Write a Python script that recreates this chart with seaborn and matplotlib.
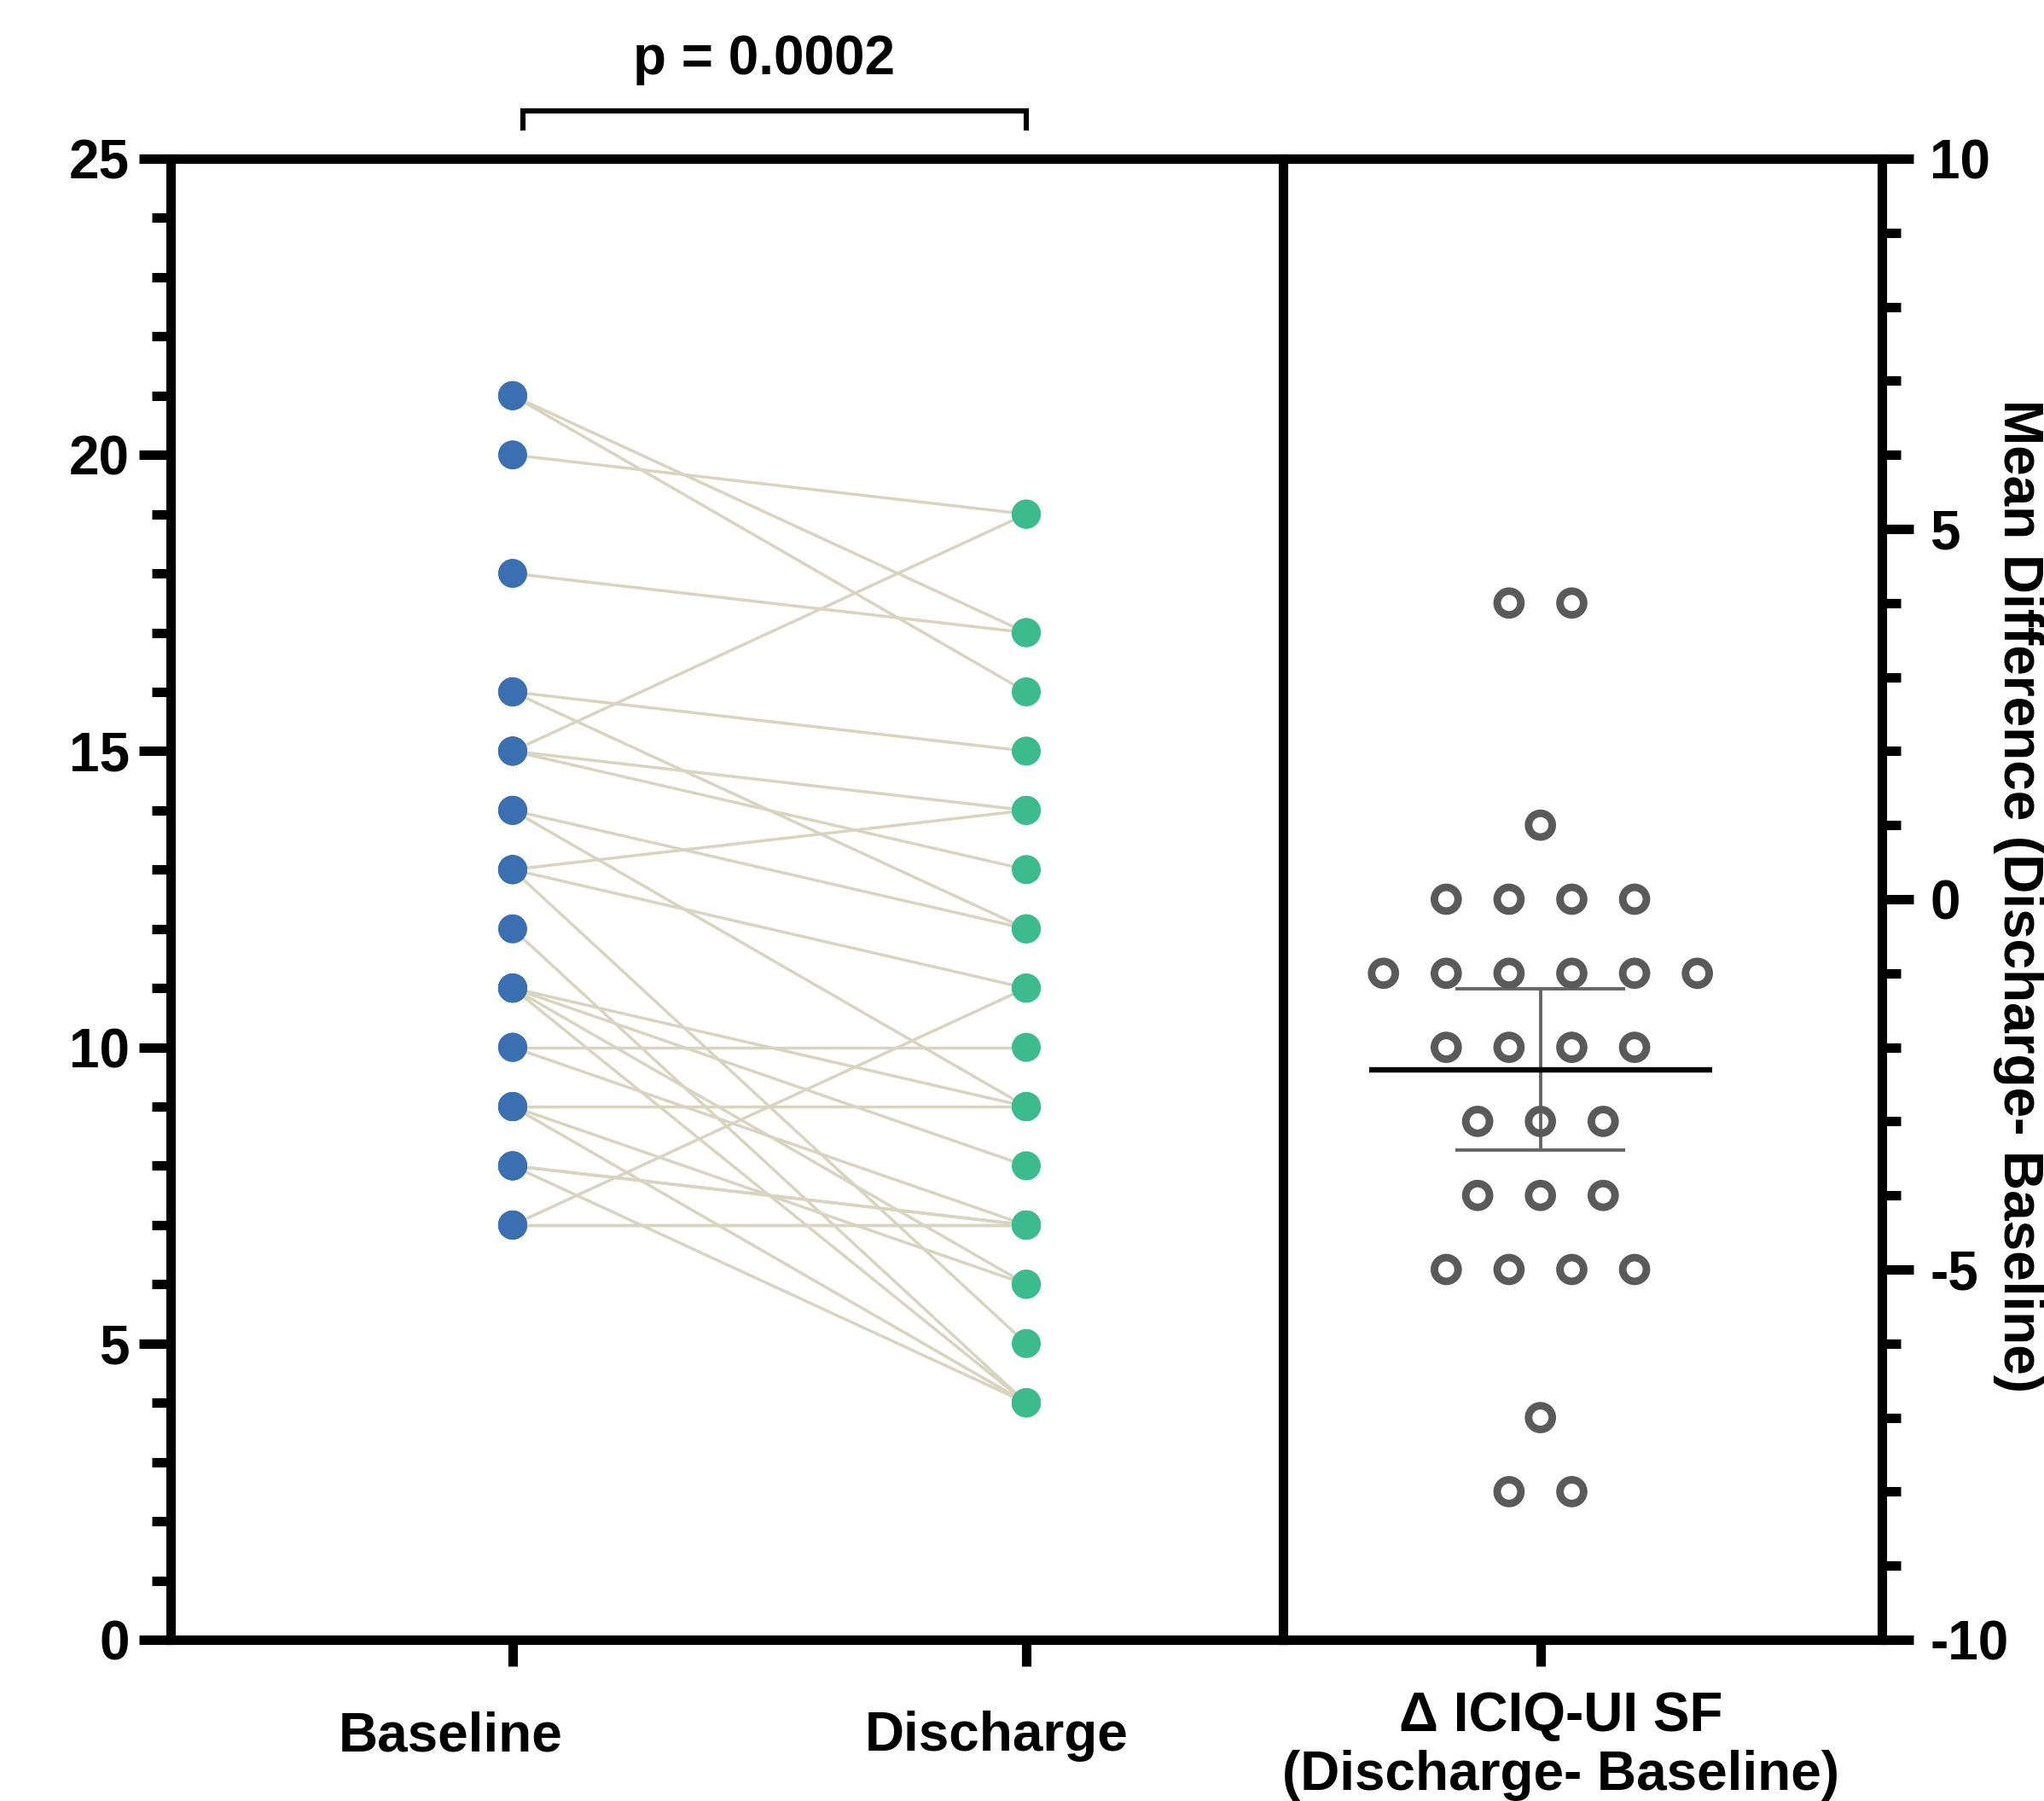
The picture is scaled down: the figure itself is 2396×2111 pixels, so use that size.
import numpy as np
import pandas as pd
import matplotlib
matplotlib.use("Agg")
import matplotlib.pyplot as plt
import matplotlib.transforms as mtransforms
from matplotlib.ticker import MultipleLocator, FixedLocator
import seaborn as sns

# ---------------- data ----------------
timepoints = ["Baseline", "Discharge"]
baseline_scores = [21, 21, 20, 18, 16, 16, 15, 15, 15, 14, 14, 13, 13, 13, 12,
                   11, 11, 11, 11, 10, 10, 9, 9, 9, 8, 8, 8, 7, 7, 7]
discharge_scores = [17, 16, 19, 17, 15, 12, 19, 14, 13, 12, 9, 14, 11, 5, 4,
                    9, 8, 6, 4, 10, 7, 9, 6, 4, 7, 7, 4, 11, 7, 7]
diff_label = "Δ ICIQ-UI SF\n(Discharge- Baseline)"
right_axis_label = "Mean Difference (Discharge- Baseline)"
p_text = "p = 0.0002"
t_crit_95 = 2.045  # t(0.975, df=29)

left_ticks = [0, 5, 10, 15, 20, 25]
right_ticks = [-10, -5, 0, 5, 10]

blue = "#3a6fb2"
green = "#3cbb8f"
line_col = "#d9d4bf"
ring_col = "#5a5a5a"

# ---------------- style ----------------
sns.set_theme(style="white")
plt.rcParams["font.family"] = ["Liberation Sans", "DejaVu Sans"]
plt.rcParams["font.weight"] = "bold"
plt.rcParams["axes.unicode_minus"] = False

W, H, DPI = 2396, 2111, 200
fig = plt.figure(figsize=(W / DPI, H / DPI), dpi=DPI)


def frac(x0, y0, x1, y1):
    return [x0 / W, 1 - y1 / H, (x1 - x0) / W, (y1 - y0) / H]


ax1 = fig.add_axes(frac(200, 186, 1504, 1922))
ax2 = fig.add_axes(frac(1504, 186, 2206, 1922))
ax2.patch.set_visible(False)

# ---------------- left panel: paired scores ----------------
n = len(baseline_scores)
long = pd.DataFrame({
    "subject": np.tile(np.arange(n), 2),
    "time": np.repeat(timepoints, n),
    "score": baseline_scores + discharge_scores,
})
long["pos"] = long["time"].map({t: i for i, t in enumerate(timepoints)})

sns.lineplot(data=long, x="pos", y="score", units="subject", estimator=None,
             color=line_col, linewidth=1.25, ax=ax1, legend=False, zorder=1)
sns.scatterplot(data=long, x="pos", y="score", hue="time",
                palette=[blue, green], s=150, linewidth=0, ax=ax1,
                legend=False, zorder=3)

ax1.set_xlim(-0.666, 1.5)
ax1.set_ylim(0, 25)
ax1.set_xlabel("")
ax1.set_ylabel("")
ax1.xaxis.set_major_locator(FixedLocator([0, 1]))
ax1.set_xticklabels(timepoints)
ax1.yaxis.set_major_locator(FixedLocator(left_ticks))
ax1.yaxis.set_minor_locator(MultipleLocator(1))

# ---------------- right panel: differences ----------------
diff = np.array(discharge_scores) - np.array(baseline_scores)
ddf = pd.DataFrame({"diff": diff})
ddf["rank"] = ddf.groupby("diff").cumcount()
ddf["count"] = ddf.groupby("diff")["diff"].transform("size")
ddf["xpos"] = ddf["rank"] - (ddf["count"] - 1) / 2

sns.scatterplot(data=ddf, x="xpos", y="diff", s=100, facecolor="none",
                edgecolor=ring_col, linewidth=3.2, ax=ax2, legend=False,
                zorder=3)

mean = diff.mean()
ci = t_crit_95 * diff.std(ddof=1) / np.sqrt(n)
ax2.errorbar([0], [mean], yerr=[ci], color="#666666", lw=1.4, capsize=0,
             zorder=2)
ax2.hlines([mean - ci, mean + ci], -1.35, 1.35, color="#666666", lw=1.4,
           zorder=2)
ax2.hlines(mean, -2.73, 2.73, color="black", lw=2.3, zorder=4)

ax2.set_xlim(-4.1, 5.44)
ax2.set_ylim(-10, 10)
ax2.set_xlabel("")
ax2.set_ylabel("")
ax2.xaxis.set_major_locator(FixedLocator([0]))
ax2.set_xticklabels([diff_label])
ax2.yaxis.tick_right()
ax2.yaxis.set_major_locator(FixedLocator(right_ticks))
ax2.yaxis.set_minor_locator(MultipleLocator(1))

# ---------------- axes styling ----------------
SPW = 4.0
for ax in (ax1, ax2):
    for side, sp in ax.spines.items():
        sp.set_color("black")
        sp.set_linewidth(SPW)
        sp.set_capstyle("projecting")
        sp.set_zorder(5)
    ax.grid(False)
ax1.set_facecolor("white")
ax2.spines["left"].set_visible(False)

ax1.tick_params(axis="y", which="major", direction="out", length=13.3,
                width=SPW, color="black", left=True, right=False,
                labelsize=23, pad=4)
ax1.tick_params(axis="y", which="minor", direction="out", length=8,
                width=SPW, color="black", left=True, right=False)
ax1.tick_params(axis="x", which="major", direction="out", length=11,
                width=SPW, color="black", bottom=True, top=False,
                labelsize=23, pad=19)
ax2.tick_params(axis="y", which="major", direction="out", length=13.3,
                width=SPW, color="black", left=False, right=True,
                labelleft=False, labelright=True, labelsize=23, pad=7)
ax2.tick_params(axis="y", which="minor", direction="out", length=8,
                width=SPW, color="black", left=False, right=True)
ax2.tick_params(axis="x", which="major", direction="out", length=11,
                width=SPW, color="black", bottom=True, top=False,
                labelsize=23, pad=10.5)

for ax in (ax1, ax2):
    for lab in ax.get_xticklabels() + ax.get_yticklabels():
        lab.set_fontweight("bold")
        lab.set_color("black")

# shift category labels horizontally as in the reference
for lab, dx in zip(ax1.get_xticklabels(), [-73, -35]):
    lab.set_transform(lab.get_transform() +
                      mtransforms.ScaledTranslation(dx / DPI, 0, fig.dpi_scale_trans))
for lab in ax2.get_xticklabels():
    lab.set_transform(lab.get_transform() +
                      mtransforms.ScaledTranslation(24 / DPI, 0, fig.dpi_scale_trans))

# ---------------- significance bracket ----------------
tr = ax1.get_xaxis_transform()
ax1.plot([0.02, 0.02, 1.0, 1.0], [1.019, 1.0323, 1.0323, 1.019], transform=tr,
         color="black", lw=2.2, clip_on=False, solid_capstyle="butt",
         solid_joinstyle="miter")
ax1.text(0.49, 1.067, p_text, transform=tr, ha="center", va="center",
         fontsize=23, fontweight="bold", color="black")

# ---------------- right axis title ----------------
fig.text(2349 / W, 1 - 1050 / H, right_axis_label, rotation=270,
         rotation_mode="anchor", ha="center", va="baseline", fontsize=23,
         fontweight="bold", color="black")

fig.savefig("out.png", dpi=DPI, facecolor="white")
